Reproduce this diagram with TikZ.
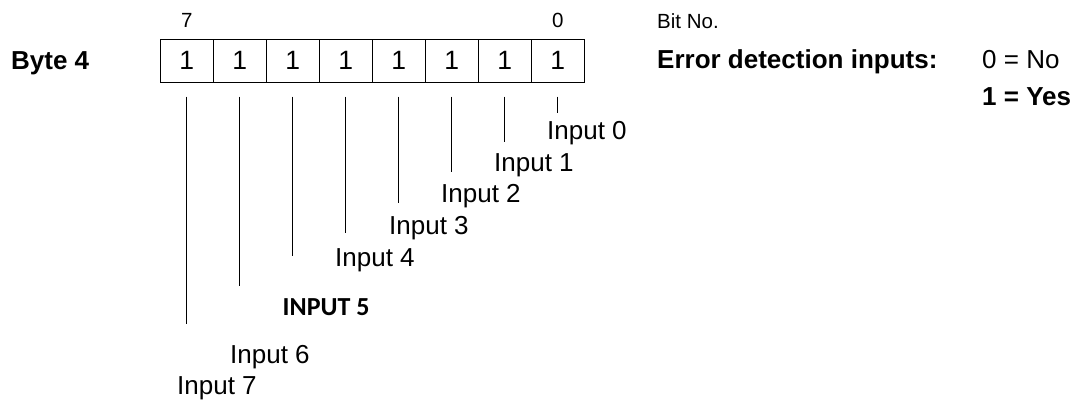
\documentclass[tikz,border=0pt]{standalone}
\usepackage{fontspec}
\setmainfont{Liberation Sans}
\newfontfamily\carlito{Carlito}

\begin{document}
\begin{tikzpicture}[x=1pt,y=-1pt,
    cell/.style={draw, line width=0.9pt, minimum width=53pt, minimum height=43pt, inner sep=0pt, font=\fontsize{26.5}{30}\selectfont},
    txt/.style={inner sep=0pt, anchor=base west, font=\fontsize{26}{30}\selectfont},
    boldtxt/.style={txt, font=\fontsize{26}{30}\selectfont\bfseries},
    small/.style={inner sep=0pt, font=\fontsize{20.5}{24}\selectfont}]
  \useasboundingbox (0,0) rectangle (1080,404);
  % Byte
  \node[boldtxt] (byte) at (11,70) {Byte 4};
  % Cells
  \foreach \i in {0,...,7}
    \node[cell] (cell\i) at ({186.8+(7-\i)*53},60.8) {1};
  % Bit numbers
  \node[small, anchor=base] (bit7) at (cell7.north |- 0,28) {7};
  \node[small, anchor=base] (bit0) at (cell0.north |- 0,28) {0};
  \node[small, anchor=base west] (bitno) at (657,28.3) {Bit No.};
  % Lines down to the inputs
  \foreach \i/\yb in {0/113,1/141.7,2/171.7,3/202.7,4/232.7,5/255.7,6/286,7/324.3}
    \draw[line width=0.9pt] ([yshift=-14pt]cell\i.south) -- (cell\i.south |- 0,\yb);
  % Inputs
  \foreach \i/\xl/\yl in {0/547/139.3,1/494/171,2/441/202.3,3/389/234.3,4/335/266,6/230/363.3,7/177/394.3}
    \node[txt] (in\i) at (\xl,\yl) {Input \i};
  \node[txt, font=\fontsize{26}{30}\selectfont\carlito\bfseries] (in5) at (282.5,315.7) {INPUT 5};
  % Legend
  \node[boldtxt] (errdet) at (657,69) {Error detection inputs:};
  \node[txt] (no) at (982,69) {0 = No};
  \node[boldtxt] (yes) at (982,106) {1 = Yes};
\end{tikzpicture}
\end{document}
